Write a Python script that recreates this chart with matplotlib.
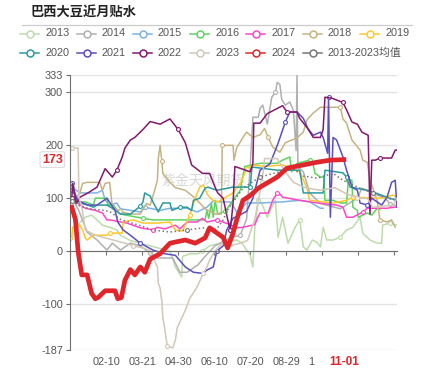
import matplotlib
matplotlib.use("Agg")
import matplotlib.pyplot as plt
from matplotlib.lines import Line2D
import matplotlib.transforms as mtransforms

plt.rcParams['font.family'] = ['Liberation Sans', 'Noto Sans CJK SC', 'DejaVu Sans']

title = '巴西大豆近月贴水'

# x is day of year (0 = 01-01)
tick_days = [0, 40, 80, 120, 160, 200, 240, 280, 320, 360]
# the 10-08 label is mostly hidden behind the current-date label, only "1" shows
tick_labels = ['', '02-10', '03-21', '04-30', '06-10', '07-20', '08-29', '1', '', '']
today_day = 304
today_label = '11-01'
y_ticks = [333, 300, 200, 100, 0, -100, -187]

d2013 = [8, 17, 24, 30, 36, 44, 52, 56, 67, 78, 89, 100, 111, 117, 124, 125, 133, 142, 147, 155,
         167, 185, 191, 196, 200, 203, 205, 209, 213, 219, 224, 228, 231, 236, 242, 250, 255, 259, 263, 269,
         274, 278, 281, 285, 292, 300, 307, 314, 322, 325, 333, 341, 346, 347, 355, 363]
v2013 = [49, 64, 68, 59, 49, 45, 40, 30, 20, 15, 10, 5, 0, -30, -49, -10, -5, -5, 0, 10,
         15, 21, 15, 2, -8, -30, 40, 96, 90, 64, 83, 96, 26, 64, 15, 45, 59, 8, 2, 21,
         17, 8, 45, 21, 21, 26, 40, 45, 64, 34, 21, 15, 15, 49, 53, 49]

d2014 = [2, 9, 19, 30, 41, 47, 56, 67, 78, 89, 97, 114, 122, 130, 142, 150, 161, 178, 189, 196,
         200, 203, 209, 211, 214, 219, 224, 228, 230, 233, 235, 239, 244, 248, 251, 252, 253, 259, 266, 278,
         300, 319, 324, 336, 350, 355, 363]
v2014 = [100, 80, 36, 21, 2, 15, 2, 15, 10, -4, -13, -13, -40, -40, -26, -10, 10, 25, 30, 60,
         159, 253, 253, 270, 276, 240, 291, 300, 319, 315, 287, 276, 282, 266, 190, 333, 160, 150, 110, 90,
         80, 100, 119, 110, 100, 90, 85]

d2015 = [2, 11, 30, 36, 39, 44, 52, 56, 78, 83, 100, 111, 130, 141, 152, 159, 167, 178, 186, 196,
         211, 235, 255, 266, 278, 281]
v2015 = [121, 110, 110, 115, 96, 87, 91, 80, 74, 83, 77, 81, 81, 74, 83, 95, 93, 93, 72, 91,
         91, 93, 96, 93, 81, 81]

d2016 = [0, 3, 17, 26, 28, 41, 42, 48, 56, 81, 92, 150, 152, 154, 157, 159, 161, 164, 172, 189,
         194, 211, 230, 236, 244, 246, 252, 266, 270, 272, 278, 282, 283, 292, 300, 307, 309, 313, 314, 319,
         320, 330, 335, 341, 344]
v2016 = [96, 93, 93, 87, 100, 100, 87, 87, 70, 62, 59, 59, 77, 62, 90, 64, 96, 70, 75, 115,
         160, 166, 166, 172, 178, 150, 166, 172, 163, 147, 140, 140, 96, 96, 91, 91, 134, 134, 83, 77,
         64, 72, 68, 81, 79]

d2017 = [2, 8, 17, 28, 36, 41, 44, 63, 78, 92, 97, 105, 117, 122, 130, 141, 147, 152, 163, 178,
         185, 192, 205, 208, 211, 220, 225, 230, 233, 236, 255, 275, 296, 303, 307, 314, 325, 330, 352, 359,
         363]
v2017 = [100, 91, 81, 77, 72, 59, 59, 53, 44, 40, 45, 42, 49, 42, 55, 55, 62, 55, 59, 50,
         44, 45, 50, 62, 72, 72, 96, 110, 108, 102, 96, 91, 87, 83, 64, 64, 74, 81, 81, 83,
         83]

d2018 = [6, 11, 14, 19, 33, 36, 39, 44, 47, 56, 67, 78, 85, 89, 94, 97, 98, 100, 102, 103,
         111, 117, 128, 139, 150, 161, 168, 169, 181, 182, 185, 192, 196, 203, 211, 216, 220, 225, 233, 239,
         252, 259, 263, 270, 278, 300, 303, 307, 313, 322, 325, 330, 333, 341, 344, 352, 357, 361]
v2018 = [100, 110, 128, 130, 130, 115, 128, 130, 83, 75, 70, 70, 90, 87, 115, 134, 175, 200, 170, 147,
         130, 120, 115, 100, 80, 70, 70, 200, 200, 172, 195, 215, 225, 215, 220, 232, 215, 197, 187, 205,
         214, 225, 248, 261, 272, 272, 250, 242, 210, 191, 172, 168, 134, 96, 59, 55, 59, 45]

d2019 = [0, 2, 3, 11, 14, 17, 19, 26, 41, 44, 58, 59, 70, 81, 97, 111, 117, 125, 133, 139,
         144, 148, 153, 159, 164, 181, 189, 196, 203, 216, 236, 255, 263, 266, 292, 307, 314, 344, 359, 363]
v2019 = [25, 25, 45, 49, 40, 25, 21, 30, 30, 34, 34, 55, 59, 53, 53, 55, 40, 38, 68, 100,
         121, 125, 106, 95, 93, 110, 128, 155, 163, 160, 163, 150, 119, 96, 91, 96, 102, 100, 106, 102]

d2020 = [2, 11, 20, 26, 30, 41, 47, 56, 67, 78, 81, 83, 89, 92, 98, 103, 111, 113, 122, 130,
         135, 137, 144, 150, 153, 163, 181, 200, 202, 230, 236, 255, 259, 281, 283, 303, 307, 311, 330, 336,
         355, 363]
v2020 = [115, 91, 87, 83, 87, 87, 81, 70, 70, 85, 93, 110, 104, 93, 74, 91, 91, 77, 83, 83,
         77, 96, 100, 119, 121, 115, 121, 121, 159, 153, 153, 153, 110, 110, 153, 148, 140, 121, 115, 112,
         100, 96]

d2021 = [2, 8, 20, 30, 41, 50, 53, 59, 67, 78, 92, 105, 117, 128, 137, 147, 153, 159, 163, 170,
         174, 181, 196, 203, 211, 222, 231, 239, 244, 252, 259, 264, 270, 278, 281, 286, 287, 289, 292, 296,
         303, 307, 313, 319, 322, 330, 335, 346, 352, 357, 361, 363]
v2021 = [128, 96, 87, 87, 100, 77, 55, 40, 30, 15, 2, -5, -8, -30, -40, -42, -35, -30, 0, 10,
         40, 62, 75, 100, 153, 165, 204, 244, 263, 263, 251, 232, 219, 225, 215, 185, 291, 64, 215, 210,
         178, 153, 121, 115, 91, 87, 100, 87, 102, 130, 134, 83]

d2022 = [2, 3, 7, 11, 20, 30, 39, 42, 47, 52, 58, 61, 67, 72, 81, 89, 100, 111, 120, 128,
         135, 147, 155, 161, 164, 170, 175, 178, 181, 183, 200, 203, 204, 211, 219, 236, 241, 252, 255, 263,
         270, 278, 281, 283, 291, 303, 307, 313, 319, 324, 331, 333, 335, 339, 344, 357, 361, 363]
v2022 = [100, 128, 90, 102, 110, 121, 156, 150, 140, 153, 178, 195, 210, 215, 230, 245, 240, 250, 230, 205,
         163, 147, 147, 121, 110, 100, 60, 40, 90, 160, 150, 165, 242, 242, 260, 275, 263, 263, 251, 234,
         215, 215, 230, 291, 289, 281, 267, 244, 240, 225, 219, 70, 172, 172, 176, 176, 191, 191]

d2023 = [2, 9, 10, 13, 17, 28, 39, 50, 61, 70, 83, 89, 97, 98, 100, 102, 103, 105, 108, 114,
         117, 119, 122, 128, 133, 137, 141, 148, 152, 155, 161, 169, 178, 189, 197, 205, 213, 216, 230, 239,
         248, 261, 278, 294, 305, 319, 330, 336, 359, 363]
v2023 = [195, 195, 100, 85, 40, 30, 25, 20, 15, 10, 5, 0, -30, -60, -70, -95, -125, -145, -180, -183,
         -168, -145, -134, -112, -89, -79, -68, -42, -30, -17, 0, 15, 10, 15, 20, 59, 130, 175, 175, 150,
         130, 120, 115, 120, 110, 100, 100, 83, 87, 100]

d2024 = [2, 6, 9, 11, 13, 19, 24, 28, 31, 39, 50, 53, 57, 61, 67, 72, 78, 83, 89, 100,
         111, 128, 139, 150, 155, 170, 175, 181, 185, 192, 200, 209, 230, 241, 256, 274, 289, 304]
v2024 = [83, 60, 0, -23, -45, -45, -80, -90, -88, -75, -75, -90, -88, -55, -35, -45, -30, -40, -15, -5,
         15, 21, 15, 25, 44, 26, 6, 34, 59, 96, 105, 119, 140, 157, 162, 168, 172, 173]

d_avg = [2, 11, 22, 33, 44, 56, 78, 92, 111, 130, 148, 155, 163, 170, 175, 185, 192, 200, 211, 233,
         248, 259, 274, 292, 303, 314, 322, 336, 352, 363]
v_avg = [95, 85, 80, 78, 75, 60, 48, 40, 36, 40, 44, 40, 42, 59, 78, 102, 119, 128, 140, 150,
         155, 142, 138, 147, 134, 125, 119, 110, 100, 96]

series = [
    ('2013', d2013, v2013, '#bddcab'),
    ('2014', d2014, v2014, '#b0b0b0'),
    ('2015', d2015, v2015, '#7eb2e6'),
    ('2016', d2016, v2016, '#5ed45e'),
    ('2017', d2017, v2017, '#ff46c8'),
    ('2018', d2018, v2018, '#c6b383'),
    ('2019', d2019, v2019, '#ffc72c'),
    ('2020', d2020, v2020, '#2b9a9f'),
    ('2021', d2021, v2021, '#5a4fc0'),
    ('2022', d2022, v2022, '#84186e'),
    ('2023', d2023, v2023, '#d3c7b7'),
    ('2024', d2024, v2024, '#e0262b'),
    ('2013-2023均值', d_avg, v_avg, '#777777'),
]

W, H = 434, 373
fig = plt.figure(figsize=(W / 100, H / 100), dpi=100)
ax = fig.add_axes([70 / W, 1 - 350 / H, 327 / W, 275 / H])

# watermark
ax.text(0.28, 0.6, '紫金天风期货', transform=ax.transAxes, fontsize=10,
        color='#d8d8d8', family=['Noto Sans CJK SC'], zorder=0.5)

for name, d, v, c in series:
    if name == '2024':
        continue
    ls = ':' if name.startswith('2013-') else '-'
    ax.plot(d, v, color=c, lw=1.1, ls=ls, marker='o', markersize=2.8,
            markerfacecolor='white', markeredgewidth=0.8, markevery=9, zorder=2)
ax.plot(d2024, v2024, color='#e0262b', lw=3.4, zorder=4, solid_joinstyle='round')

ax.set_xlim(0, 363)
ax.set_ylim(-187, 333)
ax.set_yticks(y_ticks)
ax.set_yticklabels([str(t) for t in y_ticks])
ax.yaxis.grid(True, color='#e3e3e3', lw=1)
ax.set_axisbelow(True)
for s in ['top', 'right']:
    ax.spines[s].set_visible(False)
ax.spines['left'].set_color('#6e6e6e')
ax.spines['bottom'].set_position(('data', 0))
ax.spines['bottom'].set_color('#6e6e6e')
ax.tick_params(axis='y', colors='#6e6e6e', labelcolor='#555555', labelsize=7.8, length=3, pad=2)
ax.set_xticks(tick_days)
ax.tick_params(axis='x', colors='#6e6e6e', length=3, labelbottom=False)

sec = ax.secondary_xaxis('bottom')
sec.set_xticks(tick_days)
sec.set_xticklabels(tick_labels)
sec.spines['bottom'].set_visible(False)
sec.tick_params(length=0, pad=5, labelsize=7.8, labelcolor='#555555')
# the visible "1" sits at the left edge of the hidden 10-08 label
shift = mtransforms.ScaledTranslation(-11 / 100, 0, fig.dpi_scale_trans)
lbl = sec.get_xticklabels()[7]
lbl.set_transform(lbl.get_transform() + shift)

# current-date label on the x axis
bt = mtransforms.blended_transform_factory(ax.transData, ax.transAxes)
ax.text(today_day, -0.045, today_label, transform=bt, ha='center', va='center',
        color='#e0262b', fontsize=8.5, fontweight='bold', clip_on=False, zorder=6)

# latest value label on the y axis
lt = mtransforms.blended_transform_factory(ax.transAxes, ax.transData)
ax.text(-0.022, v2024[-1], str(v2024[-1]), transform=lt, ha='right', va='center',
        color='#e0262b', fontsize=9, fontweight='bold', zorder=6,
        bbox=dict(boxstyle='round,pad=0.15', fc='white', ec='#dddddd', lw=0.8))

# title and legend
fig.text(30 / W, 1 - 13 / H, title, fontsize=9.5, fontweight='bold', color='#222222',
         va='center', family=['Noto Sans CJK SC'])
fig.add_artist(Line2D([22 / W, 412 / W], [1 - 25 / H, 1 - 25 / H], color='#cccccc', lw=0.9,
                      transform=fig.transFigure))
xs = [20, 77, 133, 190, 246, 303, 360]
for i, (name, d, v, c) in enumerate(series):
    row, col = divmod(i, 7)
    y = 1 - (33.5 + row * 19) / H
    x0 = xs[col]
    fig.add_artist(Line2D([x0 / W, (x0 + 19) / W], [y, y], color=c, lw=1.1,
                          transform=fig.transFigure))
    fig.add_artist(Line2D([(x0 + 9.5) / W], [y], color=c, marker='o', markersize=5,
                          markerfacecolor='white', markeredgewidth=1.1,
                          transform=fig.transFigure))
    fig.text((x0 + 25) / W, y, name, fontsize=7.8, color='#555555', va='center')

fig.savefig('out.png', dpi=100)
